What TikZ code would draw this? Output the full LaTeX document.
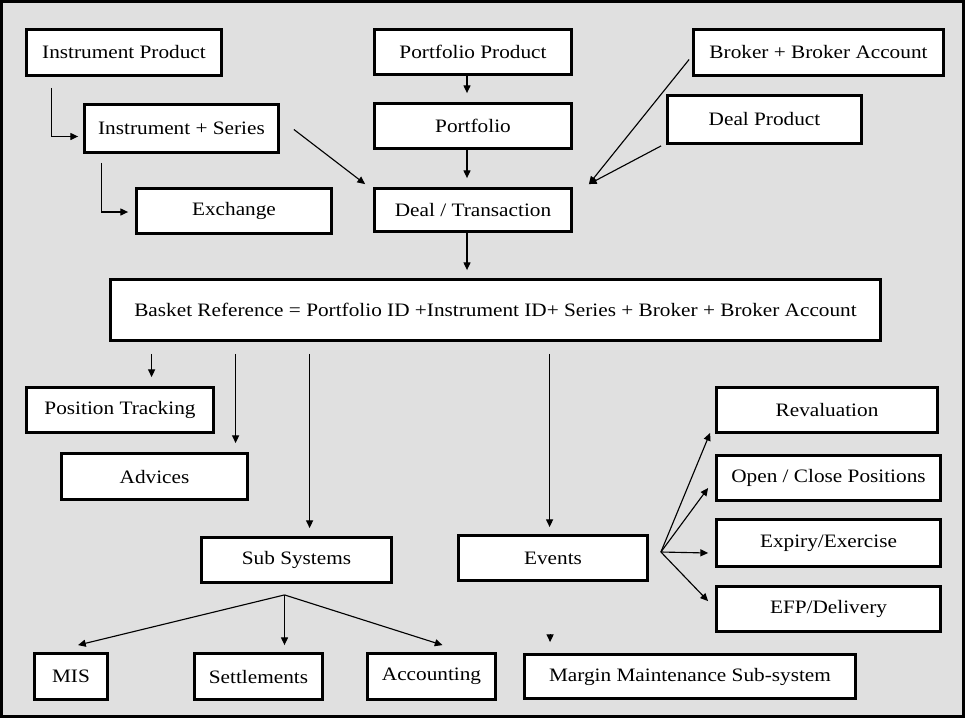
\documentclass[tikz,border=0pt]{standalone}
\usepackage{fontspec}
\setmainfont{Liberation Serif}[FakeStretch=1.12]
\usetikzlibrary{calc,arrows.meta,positioning}
\definecolor{paper}{gray}{0.88}

\begin{document}
\begin{tikzpicture}[x=0.025cm,y=-0.025cm,
    block/.style={rectangle,draw,line width=2pt,fill=white,inner sep=0pt,align=center,font=\fontsize{13.5}{16}\selectfont},
    bsize/.style 2 args={minimum width={(#1-3)*0.025cm},minimum height={(#2-3)*0.025cm}},
    arrow/.style={-{Triangle[length=5.5pt,width=5pt]},line width=0.8pt}
]

% === Frame ===
\useasboundingbox (0,0) rectangle (965,718);
\fill[paper] (0,0) rectangle (965,718);
\draw[line width=2.4pt] (1.7,1.7) rectangle (963.3,716.3);

% === Top row: products and deal ===
\node[block,bsize={198}{49}] (instprod) at (124,52.5) {Instrument Product};
\node[block,bsize={197}{51}] (instser) at (181.5,128.5) {Instrument + Series};
\node[block,bsize={198}{48}] (exch) at (234,211) {Exchange};
\node[block,bsize={200}{48}] (portprod) at (473,52) {Portfolio Product};
\node[block,bsize={200}{48}] (port) at (473,126) {Portfolio};
\node[block,bsize={200}{46}] (deal) at (473,210) {Deal / Transaction};
\node[block,bsize={253}{49}] (broker) at (818.5,52.5) {Broker + Broker Account};
\node[block,bsize={197}{51}] (dealprod) at (764.5,119.5) {Deal Product};

% === Basket reference ===
\node[block,bsize={773}{64}] (basket) at (495.5,310) {Basket Reference = Portfolio ID +Instrument ID+ Series + Broker + Broker Account};

% === Lower part ===
\node[block,bsize={190}{48}] (postrack) at (120,410) {Position Tracking};
\node[block,bsize={189}{49}] (advices) at (154.5,476.5) {Advices};
\node[block,bsize={193}{48}] (subsys) at (296.5,560) {Sub Systems};
\node[block,bsize={192}{48}] (events) at (553,558) {Events};

% Events
\node[block,bsize={224}{48}] (reval) at (827,410) {Revaluation};
\node[block,bsize={227}{48}] (openclose) at (828.5,478) {Open / Close Positions};
\node[block,bsize={227}{50}] (expiry) at (828.5,543) {Expiry/Exercise};
\node[block,bsize={227}{48}] (efp) at (828.5,609) {EFP/Delivery};

% Sub systems
\node[block,bsize={76}{49}] (mis) at (71,676.5) {MIS};
\node[block,bsize={131}{49}] (settle) at (258.5,676.5) {Settlements};
\node[block,bsize={131}{49}] (acct) at (431.5,676.5) {Accounting};
\node[block,bsize={334}{47}] (margin) at (690,676.5) {Margin Maintenance Sub-system};

% === Connectors: top ===
\draw[arrow] ($(instprod.south west)+(26,11)$) |- ($(instser.west)+(-5,8)$);
\draw[arrow] ($(instser.south west)+(18,9)$) |- ($(exch.west)+(-7,1)$);
\draw[arrow] ($(instser.east)+(14,1)$) -- ($(deal.north west)+(-8,-3)$);
\draw[arrow] ($(portprod.south)+(-6,0)$) -- ($(port.north)+(-6,-9)$);
\draw[arrow] ($(port.south)+(-6,0)$) -- ($(deal.north)+(-6,-9)$);
\coordinate (dealin) at ($(deal.north east)+(16,-3)$);
\draw[arrow] ($(broker.west)+(-3,7)$) -- (dealin);
\draw[arrow] ($(dealprod.south west)+(-5,1)$) -- (dealin);
\draw[arrow,shorten >=5.7pt] ($(deal.south)+(-6,0)$) coordinate (d1) -- (d1 |- basket.north);

% === Connectors: from basket ===
\coordinate (b1) at ($(basket.south west)+(42.5,12)$);
\coordinate (b2) at ($(basket.south west)+(126.5,12)$);
\coordinate (b3) at ($(basket.south west)+(200.5,12)$);
\coordinate (b4) at ($(basket.south west)+(440.5,12)$);
\draw[arrow,shorten >=6.4pt] (b1) -- (b1 |- postrack.north);
\draw[arrow,shorten >=6.4pt] (b2) -- (b2 |- advices.north);
\draw[arrow,shorten >=5.7pt] (b3) -- (b3 |- subsys.north);
\draw[arrow,shorten >=5pt] (b4) -- (b4 |- events.north);

% === Connectors: events fan ===
\coordinate (efan) at ($(events.east)+(12,-6)$);
\draw[arrow] (efan) -- ($(reval.south west)+(-5,-1)$);
\draw[arrow] (efan) -- ($(openclose.west)+(-7,10)$);
\draw[arrow] (efan) -- ($(expiry.west)+(-7,10)$);
\draw[arrow] (efan) -- ($(efp.north west)+(-7,16)$);

% === Connectors: sub systems fan ===
\coordinate (sfan) at ($(subsys.south)+(-12,11)$);
\draw[arrow] (sfan) -- ($(mis.north)+(7,-7)$);
\draw[arrow] (sfan) -- ($(settle.north)+(26,-7)$);
\draw[arrow] (sfan) -- ($(acct.north)+(11,-7)$);
\coordinate (mstub) at ($(margin.north west)+(27,-19)$);
\draw[arrow] (mstub) -- ($(margin.north west)+(27,-11)$);

\end{tikzpicture}
\end{document}
